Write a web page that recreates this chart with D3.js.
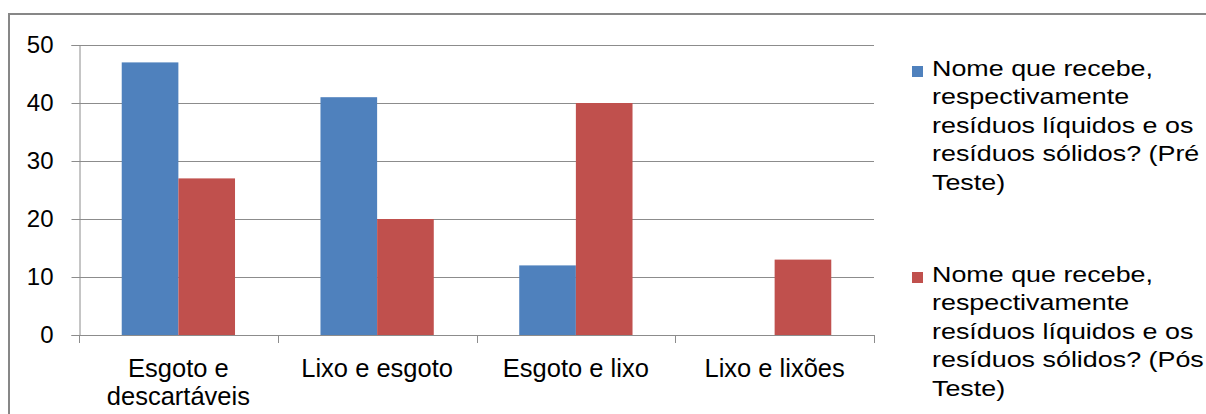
<!DOCTYPE html>
<html>
<head>
<meta charset="utf-8">
<script src="https://cdn.jsdelivr.net/npm/d3@7"></script>
<style>
  html, body { margin: 0; padding: 0; background: #fff; }
  svg { display: block; font-family: "Liberation Sans", Arial, sans-serif; }
</style>
</head>
<body>
<svg id="chart" width="1206" height="414"></svg>
<script>
// Categories and the two survey series (pre / post test)
const categories = ["Esgoto e descartáveis", "Lixo e esgoto", "Esgoto e lixo", "Lixo e lixões"];
const preTeste = [47, 41, 12, 0];
const posTeste = [27, 20, 40, 13];
const seriesNames = [
  "Nome que recebe, respectivamente resíduos líquidos e os resíduos sólidos? (Pré Teste)",
  "Nome que recebe, respectivamente resíduos líquidos e os resíduos sólidos? (Pós Teste)"
];
const seriesColors = ["#4F81BD", "#C0504D"];
const yTicks = [0, 10, 20, 30, 40, 50];

const svg = d3.select("#chart");

// Outer chart frame
svg.append("rect")
  .attr("x", 9).attr("y", 14)
  .attr("width", 1220).attr("height", 420)
  .attr("fill", "none")
  .attr("stroke", "#878787")
  .attr("stroke-width", 2);

const plot = { left: 79, right: 874, top: 45, bottom: 335 };

// Gap between clusters is 150% of a single bar width
const x = d3.scaleBand()
  .domain(categories)
  .range([plot.left, plot.right])
  .paddingInner(0.43)
  .paddingOuter(0.215);
const bandStep = x.step();

const y = d3.scaleLinear().domain([0, 50]).range([plot.bottom, plot.top]);

const xSub = d3.scaleBand().domain([0, 1]).range([0, x.bandwidth()]);

// Horizontal gridlines
svg.append("g")
  .selectAll("line")
  .data(yTicks.filter(d => d > 0))
  .join("line")
  .attr("x1", plot.left).attr("x2", plot.right)
  .attr("y1", d => Math.round(y(d)) + 0.5)
  .attr("y2", d => Math.round(y(d)) + 0.5)
  .attr("stroke", "#8c8c8c")
  .attr("stroke-width", 1);

// Bars
const rows = categories.map((c, i) => ({ cat: c, vals: [preTeste[i], posTeste[i]] }));
svg.append("g")
  .selectAll("g")
  .data(rows)
  .join("g")
  .attr("transform", d => `translate(${x(d.cat)},0)`)
  .selectAll("rect")
  .data(d => d.vals.map((v, k) => ({ v, k })))
  .join("rect")
  .attr("x", d => xSub(d.k))
  .attr("width", xSub.bandwidth())
  .attr("y", d => y(d.v))
  .attr("height", d => y(0) - y(d.v))
  .attr("fill", d => seriesColors[d.k]);

// Y axis
const yAxis = svg.append("g")
  .attr("transform", `translate(${plot.left + 0.5},0)`)
  .call(d3.axisLeft(y).tickValues(yTicks).tickSize(8).tickPadding(18));
yAxis.select(".domain").attr("stroke", "#8c8c8c");
yAxis.selectAll(".tick line").attr("stroke", "#8c8c8c");
yAxis.selectAll(".tick text")
  .attr("font-size", 24)
  .attr("fill", "#000")
  .attr("font-family", "Liberation Sans, Arial, sans-serif");

// X axis line with boundary ticks between categories
const xAxis = svg.append("g");
xAxis.append("line")
  .attr("x1", plot.left).attr("x2", plot.right)
  .attr("y1", plot.bottom + 0.5).attr("y2", plot.bottom + 0.5)
  .attr("stroke", "#8c8c8c");
const boundaries = d3.range(categories.length + 1).map(i => plot.left + i * bandStep);
xAxis.selectAll("line.tk")
  .data(boundaries)
  .join("line")
  .attr("class", "tk")
  .attr("x1", d => Math.round(d) + 0.5).attr("x2", d => Math.round(d) + 0.5)
  .attr("y1", plot.bottom).attr("y2", plot.bottom + 8)
  .attr("stroke", "#8c8c8c");

// Word wrap helper using measured text widths
function wrapWords(text, maxWidth, fontSize, scaleX) {
  const probe = svg.append("text").attr("font-size", fontSize).attr("visibility", "hidden");
  const words = text.split(" ");
  const lines = [];
  let line = "";
  for (const w of words) {
    const test = line ? line + " " + w : w;
    probe.text(test);
    if (probe.node().getComputedTextLength() * scaleX > maxWidth && line) {
      lines.push(line);
      line = w;
    } else {
      line = test;
    }
  }
  if (line) lines.push(line);
  probe.remove();
  return lines;
}

// Category labels
const catLabels = svg.append("g");
categories.forEach(c => {
  const cx = x(c) + x.bandwidth() / 2;
  const lines = wrapWords(c, bandStep - 10, 25.5, 1);
  const t = catLabels.append("text")
    .attr("x", cx)
    .attr("y", 377)
    .attr("text-anchor", "middle")
    .attr("font-size", 25.5)
    .attr("fill", "#000");
  lines.forEach((ln, i) => {
    t.append("tspan")
      .attr("x", cx)
      .attr("dy", i === 0 ? 0 : 28)
      .text(ln);
  });
});

// Legend
const legendX = 912;
const legendTops = [66, 272];
const legendFont = 21.5;
const legendStretch = 1.25;
seriesNames.forEach((name, k) => {
  const g = svg.append("g").attr("transform", `translate(${legendX},${legendTops[k]})`);
  g.append("rect")
    .attr("x", 0).attr("y", 0)
    .attr("width", 11).attr("height", 11)
    .attr("fill", seriesColors[k]);
  const lines = wrapWords(name, 276, legendFont, legendStretch);
  const t = g.append("text")
    .attr("transform", `translate(20,10) scale(${legendStretch},1)`)
    .attr("font-size", legendFont)
    .attr("fill", "#000");
  lines.forEach((ln, i) => {
    t.append("tspan").attr("x", 0).attr("dy", i === 0 ? 0 : 28.5).text(ln);
  });
});
</script>
</body>
</html>
